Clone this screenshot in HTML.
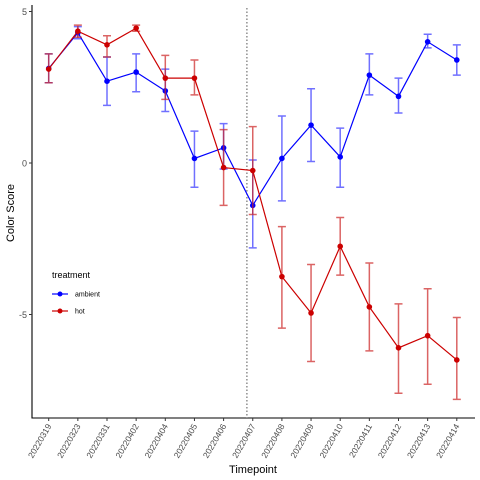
<!DOCTYPE html>
<html><head><meta charset="utf-8"><style>
body{margin:0;background:#fff;}
svg{display:block;font-family:"Liberation Sans",Arial,sans-serif;}
</style></head><body>
<svg id="chart" width="480" height="480" viewBox="0 0 480 480">
<g id="plot"></g>
</svg>
<script>
const categories=["20220319","20220323","20220331","20220402","20220404","20220405","20220406","20220407","20220408","20220409","20220410","20220411","20220412","20220413","20220414"];
const ambientMean=[3.12,4.3,2.7,3.0,2.38,0.15,0.5,-1.4,0.15,1.25,0.2,2.9,2.2,4.0,3.4];
const ambientLow=[2.65,4.1,1.9,2.35,1.7,-0.8,-0.2,-2.8,-1.25,0.05,-0.8,2.25,1.65,3.8,2.9];
const ambientHigh=[3.6,4.5,3.5,3.6,3.1,1.05,1.3,0.1,1.55,2.45,1.15,3.6,2.8,4.25,3.9];
const hotMean=[3.1,4.35,3.9,4.45,2.8,2.8,-0.15,-0.25,-3.75,-4.95,-2.75,-4.75,-6.1,-5.7,-6.5];
const hotLow=[2.65,4.15,3.5,4.35,2.1,2.25,-1.4,-1.7,-5.45,-6.55,-3.7,-6.2,-7.6,-7.3,-7.8];
const hotHigh=[3.6,4.55,4.2,4.55,3.55,3.4,1.1,1.2,-2.1,-3.35,-1.8,-3.3,-4.65,-4.15,-5.1];
const yTicks=[-5,0,5];
const vlinePos=6.8;

const NS="http://www.w3.org/2000/svg";
const g=document.getElementById('plot');
function xS(i){return 48.7+i*29.15;}
function yS(v){return 163-30.3*v;}
function mk(t,a,p){const e=document.createElementNS(NS,t);for(const k in a)e.setAttribute(k,a[k]);(p||g).appendChild(e);return e;}

// axes
let e=mk('line',{x1:32,y1:5,x2:32,y2:418.5,stroke:'#000','stroke-width':1.1});


e=mk('line',{x1:31.5,y1:418,x2:475,y2:418,stroke:'#000','stroke-width':1.1});


yTicks.forEach(t=>{
  mk('line',{x1:29,x2:32,y1:yS(t),y2:yS(t),stroke:'#333'});
  const tx=mk('text',{x:27,y:yS(t)+3.5,'text-anchor':'end','font-size':9,fill:'#4d4d4d'});
  tx.textContent=t;
  
  
});
categories.forEach((c,i)=>{
  mk('line',{x1:xS(i),x2:xS(i),y1:418,y2:421,stroke:'#333'});
  const tx=mk('text',{x:0,y:0,'text-anchor':'end','font-size':8.5,fill:'#4d4d4d',transform:`translate(${xS(i)+3},${426}) rotate(-60)`});
  tx.textContent=c;
  
  
});
e=mk('text',{x:253,y:473,'text-anchor':'middle','font-size':11,fill:'#000'});
e.textContent='Timepoint';


e=mk('text',{x:0,y:0,'text-anchor':'middle','font-size':11,fill:'#000',transform:'translate(14,213) rotate(-90)'});
e.textContent='Color Score';



// dotted vline
e=mk('line',{x1:xS(vlinePos),x2:xS(vlinePos),y1:8,y2:418,stroke:'#555','stroke-width':1,'stroke-dasharray':'1.5,2'});



function series(mean,lo,hi,col,ecol,name){
  const sg=mk('g',{});
  
  
  mean.forEach((m,i)=>{
    const x=xS(i);
    const eb=mk('path',{d:`M${x-4},${yS(hi[i])}H${x+4}M${x},${yS(hi[i])}V${yS(lo[i])}M${x-4},${yS(lo[i])}H${x+4}`,stroke:ecol,'stroke-width':1.5,fill:'none','stroke-opacity':0.7},sg);
    
    
  });
  const ln=mk('polyline',{points:mean.map((m,i)=>xS(i)+','+yS(m)).join(' '),fill:'none',stroke:col,'stroke-width':1.2},sg);
  
  
  mean.forEach((m,i)=>{
    const p=mk('circle',{cx:xS(i),cy:yS(m),r:2.8,fill:col},sg);
    
    
  });
}
series(ambientMean,ambientLow,ambientHigh,'#0000ff','#3333ff','ambient');
series(hotMean,hotLow,hotHigh,'#cc0000','#cc2222','hot');

// legend
const lg=mk('g',{});


e=mk('text',{x:52,y:278,'font-size':9,fill:'#000'},lg);e.textContent='treatment';


[['ambient','#0000ff',294],['hot','#cc0000',311]].forEach(([n,c,y])=>{
  const eg=mk('g',{},lg);
  
  
  mk('line',{x1:52,x2:68,y1:y,y2:y,stroke:c,'stroke-width':1.2},eg);
  mk('circle',{cx:60,cy:y,r:2.5,fill:c},eg);
  const t=mk('text',{x:75,y:y+2.5,'font-size':7,fill:'#000'},eg);t.textContent=n;
});
</script>
</body></html>
